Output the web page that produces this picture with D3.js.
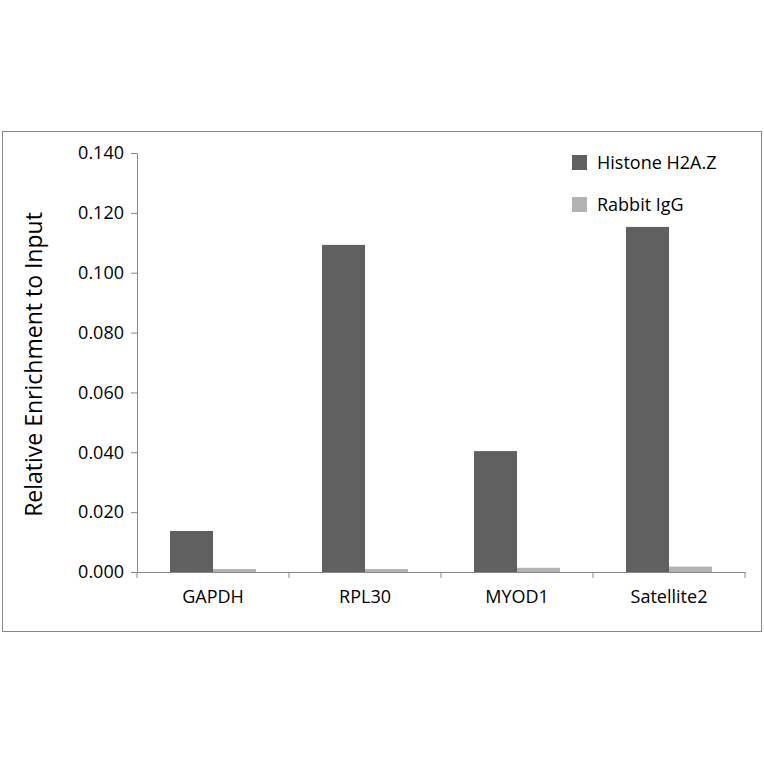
<!DOCTYPE html>
<html><head><meta charset="utf-8">
<script src="https://cdn.jsdelivr.net/npm/d3@7"></script>
<style>body{margin:0;background:#fff}</style></head>
<body><svg id="c" width="764" height="764"></svg>
<script>
const categories = ["GAPDH","RPL30","MYOD1","Satellite2"];
const seriesNames = ["Histone H2A.Z","Rabbit IgG"];
const h2az = [0.0137,0.1093,0.0404,0.1153];
const igg = [0.0010,0.0010,0.0014,0.0018];
const yTicks = [0,0.02,0.04,0.06,0.08,0.1,0.12,0.14];
const colors = ["#606060","#b3b3b3"];

const svg = d3.select("#c");
const font = "'Open Sans', sans-serif";
svg.append("rect").attr("x",2.5).attr("y",131.5).attr("width",759).attr("height",500)
  .attr("fill","#fff").attr("stroke","#888");
const L=137,R=745,T=153,B=572;
const x = d3.scaleBand().domain(categories).range([L,R]);
const y = d3.scaleLinear().domain([0,0.14]).range([B,T]);
const barW = 43;
const series=[h2az,igg];
series.forEach((vals,s)=>{
  svg.selectAll(null).data(vals).enter().append("rect")
    .attr("x",(d,i)=>x(categories[i])+x.bandwidth()/2-barW+s*barW)
    .attr("width",barW).attr("y",d=>y(d)).attr("height",d=>B-y(d))
    .attr("fill",colors[s]);
});
const ya = svg.append("g").attr("transform",`translate(${L},0)`)
  .call(d3.axisLeft(y).tickValues(yTicks).tickFormat(d3.format(".3f")).tickSize(6).tickSizeOuter(0));
ya.selectAll("text").attr("font-family",font).attr("font-size",18).attr("fill","#000").attr("dx",-4);
ya.selectAll("line,path").attr("stroke","#888");
const xa = svg.append("g").attr("transform",`translate(0,${B})`)
  .call(d3.axisBottom(x).tickSize(0).tickSizeOuter(0));
xa.selectAll("text").attr("font-family",font).attr("font-size",18).attr("fill","#000").attr("dy",28);
xa.selectAll("path").attr("stroke","#888");
svg.append("g").selectAll("line").data(d3.range(categories.length+1)).enter().append("line")
  .attr("x1",i=>L+i*x.step()).attr("x2",i=>L+i*x.step()).attr("y1",B).attr("y2",B+6).attr("stroke","#888");
svg.append("text").attr("transform",`translate(42,${(T+B)/2+2}) rotate(-90)`)
  .attr("text-anchor","middle").attr("font-family",font).attr("font-size",23).text("Relative Enrichment to Input");
seriesNames.forEach((n,i)=>{
  const yy=162+i*42;
  svg.append("rect").attr("x",572).attr("y",yy-7).attr("width",15).attr("height",15).attr("fill",colors[i]);
  svg.append("text").attr("x",597).attr("y",yy+7).attr("font-family",font).attr("font-size",18).text(n);
});
</script></body></html>
